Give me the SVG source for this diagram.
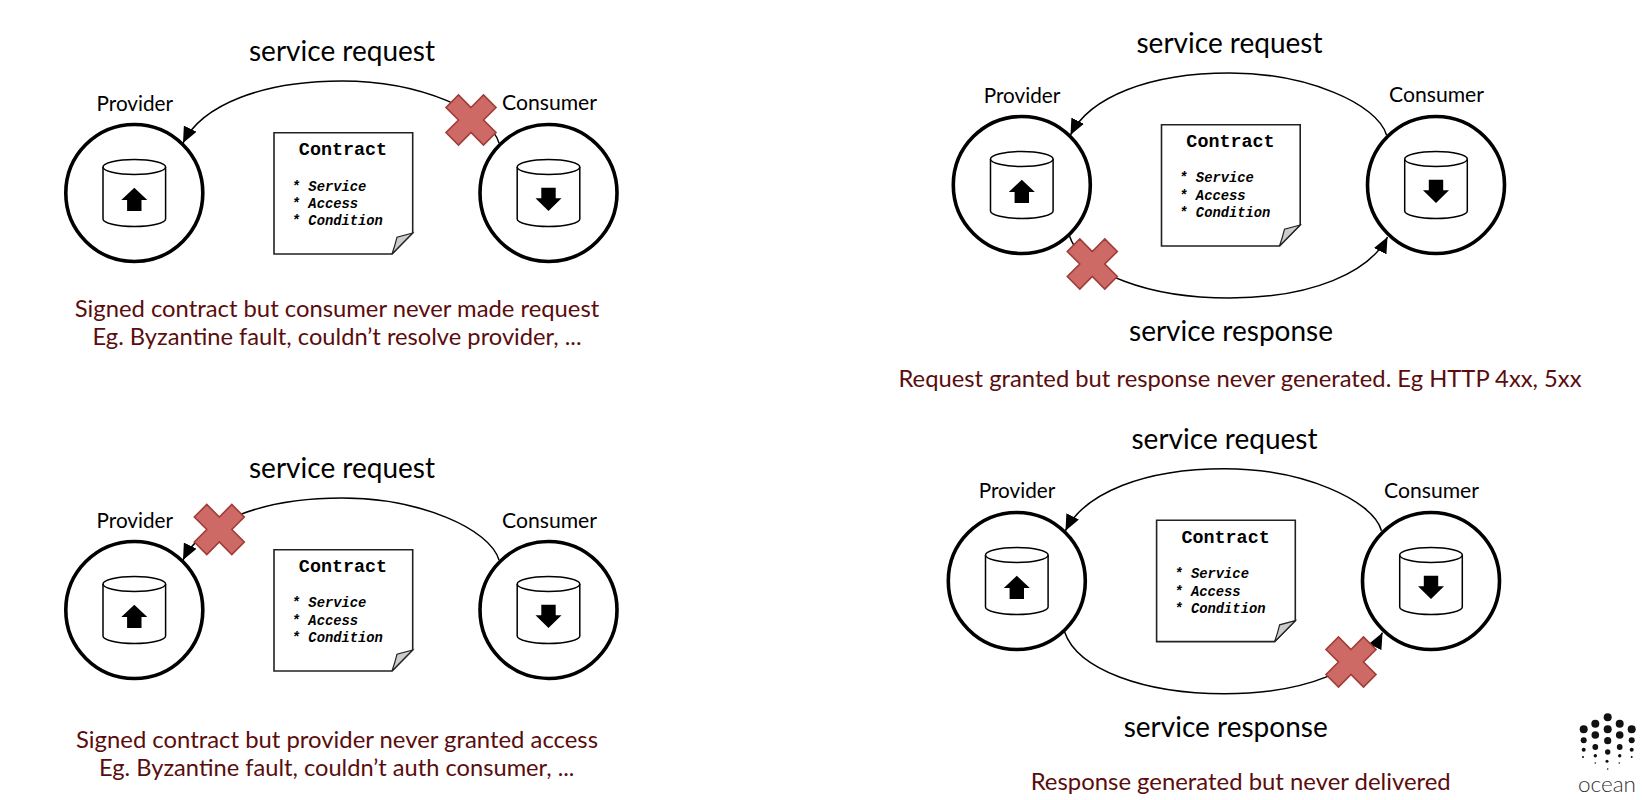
<svg xmlns="http://www.w3.org/2000/svg" width="1642" height="800" viewBox="0 0 1642 800">
<style>
text{font-family:"Lato","Noto Sans","Liberation Sans",sans-serif}
.h{font-size:28.5px;fill:#000}
.l{font-size:21.5px;fill:#000}
.c{font-size:24px;fill:#5a0d0d}
.m{font-family:"Liberation Mono","Courier New",monospace;font-weight:700;fill:#000}
.t{font-size:18.4px}
.i{font-size:13.8px;font-style:italic}
.n{fill:#fff;stroke:#000;stroke-width:3.6}
.cy{fill:#fff;stroke:#000;stroke-width:1.5}
.d{fill:#fff;stroke:#222;stroke-width:1.6}
.f{fill:#ccc;stroke:#222;stroke-width:1.2}
.x{fill:#cd6a66;stroke:#a03c38;stroke-width:1.6}
.e{fill:none;stroke:#000;stroke-width:1.5}
.o{fill:#111}
</style>
<defs>
<marker id="ah" viewBox="0 0 16 14" refX="16" refY="7" markerWidth="16" markerHeight="14" markerUnits="userSpaceOnUse" orient="auto"><path d="M0 0L16 7L0 14Z" fill="#000"/></marker>
<g id="cyl"><path class="cy" d="M-31.3 -26V26C-31.3 30 -17 33.5 0 33.5S31.3 30 31.3 26V-26"/><ellipse class="cy" cx="0" cy="-26" rx="31.3" ry="7.5"/></g>
<path id="up" d="M0 -5.3L13 7H7.2V18H-7.2V7H-13Z" fill="#000"/>
<path id="down" d="M-7.2 -5.3H7.2V5.3H13L0 18L-13 5.3H-7.2Z" fill="#000"/>
<g id="doc"><path class="d" d="M0 0H138.7V100.3L118 121.3H0Z"/><path class="f" d="M138.7 100.3L123 104.5Q121 113 118 121.3Z"/></g>
<path id="cross" class="x" d="M0 -12.5L12.5 -25L25 -12.5L12.5 0L25 12.5L12.5 25L0 12.5L-12.5 25L-25 12.5L-12.5 0L-25 -12.5L-12.5 -25Z"/>
</defs>

<g id="panel-1">
<text class="h" x="342" y="61.2" text-anchor="middle" textLength="186" lengthAdjust="spacingAndGlyphs">service request</text>
<g id="provider-1"><circle class="n" cx="134.3" cy="193" r="68.5"/><use href="#cyl" x="134.3" y="193"/><use href="#up" x="134.3" y="193"/><text class="l" x="134.8" y="110.5" text-anchor="middle" textLength="76.5" lengthAdjust="spacingAndGlyphs">Provider</text></g>
<g id="consumer-1"><circle class="n" cx="548.5" cy="193" r="68.5"/><use href="#cyl" x="548.5" y="193"/><use href="#down" x="548.5" y="193"/><text class="l" x="549.5" y="110" text-anchor="middle" textLength="95" lengthAdjust="spacingAndGlyphs">Consumer</text></g>
<g id="contract-1"><use href="#doc" x="274" y="132.7"/><text class="m t" x="343" y="154.7" text-anchor="middle">Contract</text><text class="m i" x="291.8" y="191">* Service</text><text class="m i" x="291.8" y="208">* Access</text><text class="m i" x="291.8" y="225">* Condition</text></g>
<text class="c" x="337" y="316.5" text-anchor="middle" textLength="524.5" lengthAdjust="spacingAndGlyphs">Signed contract but consumer never made request</text>
<text class="c" x="337" y="345" text-anchor="middle" textLength="489" lengthAdjust="spacingAndGlyphs">Eg. Byzantine fault, couldn’t resolve provider, ...</text>
</g>

<g id="panel-2">
<text class="h" x="1229.5" y="52.9" text-anchor="middle" textLength="186" lengthAdjust="spacingAndGlyphs">service request</text>
<g id="provider-2"><circle class="n" cx="1021.8" cy="185" r="68.5"/><use href="#cyl" x="1021.8" y="185"/><use href="#up" x="1021.8" y="185"/><text class="l" x="1022" y="102.7" text-anchor="middle" textLength="76.5" lengthAdjust="spacingAndGlyphs">Provider</text></g>
<g id="consumer-2"><circle class="n" cx="1436" cy="185" r="68.5"/><use href="#cyl" x="1436" y="185"/><use href="#down" x="1436" y="185"/><text class="l" x="1436.5" y="101.7" text-anchor="middle" textLength="95" lengthAdjust="spacingAndGlyphs">Consumer</text></g>
<g id="contract-2"><use href="#doc" x="1161.5" y="124.7"/><text class="m t" x="1230.5" y="146.7" text-anchor="middle">Contract</text><text class="m i" x="1179.3" y="182">* Service</text><text class="m i" x="1179.3" y="200.3">* Access</text><text class="m i" x="1179.3" y="217">* Condition</text></g>
<text class="h" x="1231" y="341.3" text-anchor="middle" textLength="204" lengthAdjust="spacingAndGlyphs">service response</text>
<text class="c" x="1240" y="386.7" text-anchor="middle" textLength="683" lengthAdjust="spacingAndGlyphs">Request granted but response never generated. Eg HTTP 4xx, 5xx</text>
</g>

<g id="panel-3">
<text class="h" x="342" y="477.9" text-anchor="middle" textLength="186" lengthAdjust="spacingAndGlyphs">service request</text>
<g id="provider-3"><circle class="n" cx="134.3" cy="610" r="68.5"/><use href="#cyl" x="134.3" y="610"/><use href="#up" x="134.3" y="610"/><text class="l" x="134.8" y="528" text-anchor="middle" textLength="76.5" lengthAdjust="spacingAndGlyphs">Provider</text></g>
<g id="consumer-3"><circle class="n" cx="548.5" cy="610" r="68.5"/><use href="#cyl" x="548.5" y="610"/><use href="#down" x="548.5" y="610"/><text class="l" x="549.5" y="528" text-anchor="middle" textLength="95" lengthAdjust="spacingAndGlyphs">Consumer</text></g>
<g id="contract-3"><use href="#doc" x="274" y="549.7"/><text class="m t" x="343" y="571.7" text-anchor="middle">Contract</text><text class="m i" x="291.8" y="607">* Service</text><text class="m i" x="291.8" y="625.3">* Access</text><text class="m i" x="291.8" y="642">* Condition</text></g>
<text class="c" x="337" y="748.3" text-anchor="middle" textLength="522" lengthAdjust="spacingAndGlyphs">Signed contract but provider never granted access</text>
<text class="c" x="336.7" y="776" text-anchor="middle" textLength="475.5" lengthAdjust="spacingAndGlyphs">Eg. Byzantine fault, couldn’t auth consumer, ...</text>
</g>

<g id="panel-4">
<text class="h" x="1224.5" y="448.5" text-anchor="middle" textLength="186" lengthAdjust="spacingAndGlyphs">service request</text>
<g id="provider-4"><circle class="n" cx="1016.8" cy="581" r="68.5"/><use href="#cyl" x="1016.8" y="581"/><use href="#up" x="1016.8" y="581"/><text class="l" x="1017" y="497.7" text-anchor="middle" textLength="76.5" lengthAdjust="spacingAndGlyphs">Provider</text></g>
<g id="consumer-4"><circle class="n" cx="1431" cy="581" r="68.5"/><use href="#cyl" x="1431" y="581"/><use href="#down" x="1431" y="581"/><text class="l" x="1431.5" y="497.7" text-anchor="middle" textLength="95" lengthAdjust="spacingAndGlyphs">Consumer</text></g>
<g id="contract-4"><use href="#doc" x="1156.6" y="520.3"/><text class="m t" x="1225.6" y="542.7" text-anchor="middle">Contract</text><text class="m i" x="1174.4" y="578">* Service</text><text class="m i" x="1174.4" y="596">* Access</text><text class="m i" x="1174.4" y="613">* Condition</text></g>
<text class="h" x="1225.7" y="737.3" text-anchor="middle" textLength="204" lengthAdjust="spacingAndGlyphs">service response</text>
<text class="c" x="1240.7" y="790" text-anchor="middle" textLength="420" lengthAdjust="spacingAndGlyphs">Response generated but never delivered</text>
</g>

<g id="connectors">
<path class="e" marker-end="url(#ah)" d="M499 143C490 112 420 81 342 81C262 81 202 105 183 143"/>
<path class="e" marker-end="url(#ah)" d="M1386.5 135C1377.5 104 1307.5 73 1229.5 73C1149.5 73 1089.5 97 1070.5 135"/>
<path class="e" marker-end="url(#ah)" d="M1069.5 236C1082.5 274 1149.5 298 1229.5 298C1312.5 298 1369.5 272 1387.5 237"/>
<path class="e" marker-end="url(#ah)" d="M499 560C490 529 420 498 342 498C262 498 202 522 183 560"/>
<path class="e" marker-end="url(#ah)" d="M1381.5 530.7C1372.5 499.7 1302.5 468.7 1224.5 468.7C1144.5 468.7 1084.5 492.7 1065.5 530.7"/>
<path class="e" marker-end="url(#ah)" d="M1064.5 631.7C1077.5 669.7 1144.5 693.7 1224.5 693.7C1307.5 693.7 1364.5 667.7 1382.5 632.7"/>
</g>

<g id="faults">
<use id="fault-1" href="#cross" x="471" y="120"/>
<use id="fault-2" href="#cross" x="1092.3" y="264"/>
<use id="fault-3" href="#cross" x="219.3" y="529.5"/>
<use id="fault-4" href="#cross" x="1351" y="662"/>
</g>

<g id="logo">
<circle class="o" cx="1607.7" cy="717.3" r="4"/>
<circle class="o" cx="1595.3" cy="723.7" r="4"/><circle class="o" cx="1619.7" cy="723.7" r="4"/>
<circle class="o" cx="1583.7" cy="729.3" r="4"/><circle class="o" cx="1607.7" cy="729.3" r="4"/><circle class="o" cx="1631.7" cy="729.3" r="4"/>
<circle class="o" cx="1595.3" cy="735" r="3.8"/><circle class="o" cx="1619.7" cy="735" r="3.8"/>
<circle class="o" cx="1583.7" cy="740.3" r="3"/><circle class="o" cx="1607.7" cy="740.7" r="3.6"/><circle class="o" cx="1631.7" cy="740.3" r="3"/>
<circle class="o" cx="1595.3" cy="747" r="2.9"/><circle class="o" cx="1619.7" cy="747" r="2.9"/>
<circle class="o" cx="1583.7" cy="749.7" r="2"/><circle class="o" cx="1607.7" cy="752" r="2.7"/><circle class="o" cx="1631.7" cy="749.7" r="2"/>
<circle class="o" cx="1595.3" cy="755.7" r="1.7"/><circle class="o" cx="1619.7" cy="755.7" r="1.7"/>
<circle class="o" cx="1583" cy="757" r="1"/><circle class="o" cx="1607" cy="761.3" r="1.5"/><circle class="o" cx="1631.7" cy="757" r="1"/>
<circle class="o" cx="1595.3" cy="763" r=".8"/><circle class="o" cx="1619.3" cy="763" r=".8"/>
<circle class="o" cx="1607.7" cy="769" r=".8"/>
<text x="1607" y="791.5" text-anchor="middle" font-size="21" font-weight="300" fill="#333" textLength="58" lengthAdjust="spacingAndGlyphs">ocean</text>
</g>
</svg>
